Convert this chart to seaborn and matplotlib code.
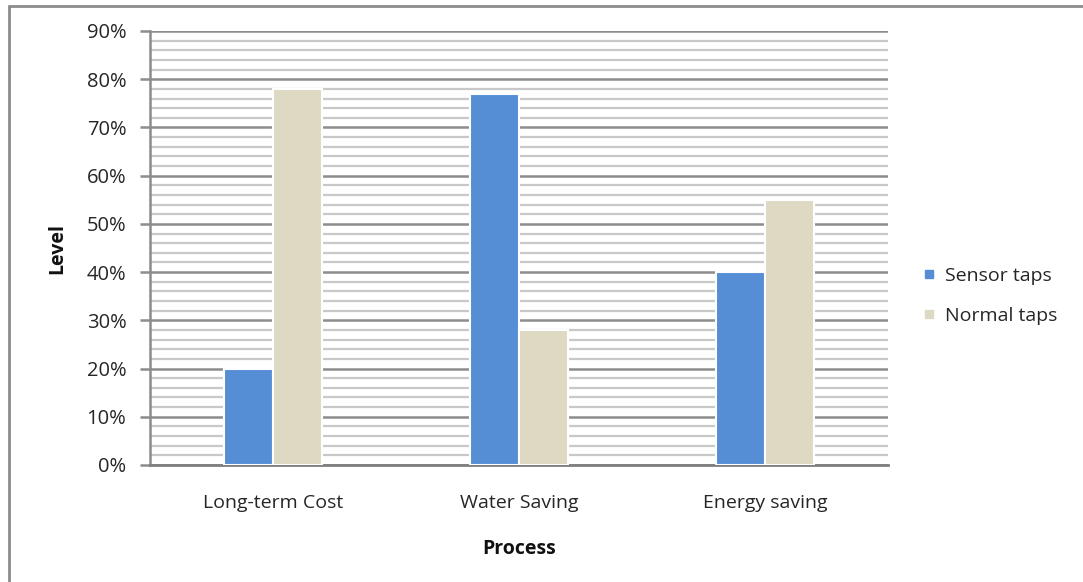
import matplotlib
matplotlib.use("Agg")
import matplotlib.pyplot as plt
import seaborn as sns
import pandas as pd
from matplotlib.ticker import MultipleLocator, FuncFormatter
from matplotlib.lines import Line2D

categories = ["Long-term Cost", "Water Saving", "Energy saving"]
series = ["Sensor taps", "Normal taps"]
sensor = [20, 77, 40]
normal = [78, 28, 55]
colors = ["#558ED5", "#DDD9C3"]

df = pd.DataFrame({
    "Process": categories * 2,
    "Level": sensor + normal,
    "Type": [series[0]] * 3 + [series[1]] * 3,
})

sns.set_theme(style="white")
plt.rcParams['font.family'] = ['Open Sans', 'DejaVu Sans']

fig = plt.figure(figsize=(10.83, 5.82), dpi=100)
ax = fig.add_axes([150 / 1083, 1 - 465 / 582, (888 - 150) / 1083, (465 - 31) / 582])

sns.barplot(data=df, x="Process", y="Level", hue="Type", palette=colors,
            width=0.4, saturation=1, edgecolor="white", linewidth=1.5,
            ax=ax, legend=False, zorder=3)

ax.set_xlim(-0.5, 2.5)
ax.set_ylim(0, 90)
ax.yaxis.set_major_locator(MultipleLocator(10))
ax.yaxis.set_minor_locator(MultipleLocator(2))
ax.yaxis.set_major_formatter(FuncFormatter(lambda v, p: f"{int(round(v))}%"))
ax.grid(False)
ax.set_axisbelow(True)
ax.yaxis.grid(True, which="minor", color="#C8C8C8", linewidth=1.6, zorder=0)
ax.yaxis.grid(True, which="major", color="#8C8C8C", linewidth=1.8, zorder=0)

for s in ["top", "right"]:
    ax.spines[s].set_visible(False)
ax.spines["left"].set_color("#8C8C8C")
ax.spines["left"].set_linewidth(1.8)
ax.spines["bottom"].set_color("#7F7F7F")
ax.spines["bottom"].set_linewidth(2)

ax.tick_params(axis="y", which="major", left=True, length=7, width=1.8,
               color="#8C8C8C", pad=10, labelsize=14.5, labelcolor="#262626")
ax.tick_params(axis="y", which="minor", left=False)
ax.tick_params(axis="x", bottom=False, pad=15, labelsize=14, labelcolor="#262626")

ax.set_ylabel("Level", fontsize=14, fontweight="bold", labelpad=14, color="#111111")
ax.set_xlabel("Process", fontsize=14, fontweight="bold", labelpad=19, color="#111111")

handles = [Line2D([], [], marker="s", linestyle="none", markersize=6,
                  markerfacecolor=c, markeredgecolor=c) for c in colors]
fig.legend(handles, series, loc="center left",
           bbox_to_anchor=(902 / 1083, 1 - 296 / 582), frameon=False,
           fontsize=14, labelspacing=1.15, handletextpad=0.3, handlelength=1.0)

fig.add_artist(Line2D([9 / 1083, 9 / 1083], [0, 1 - 6 / 582], color="#8C8C8C", lw=2))
fig.add_artist(Line2D([9 / 1083, 1], [1 - 6 / 582, 1 - 6 / 582], color="#8C8C8C", lw=2))

fig.savefig("out.png", dpi=100)
